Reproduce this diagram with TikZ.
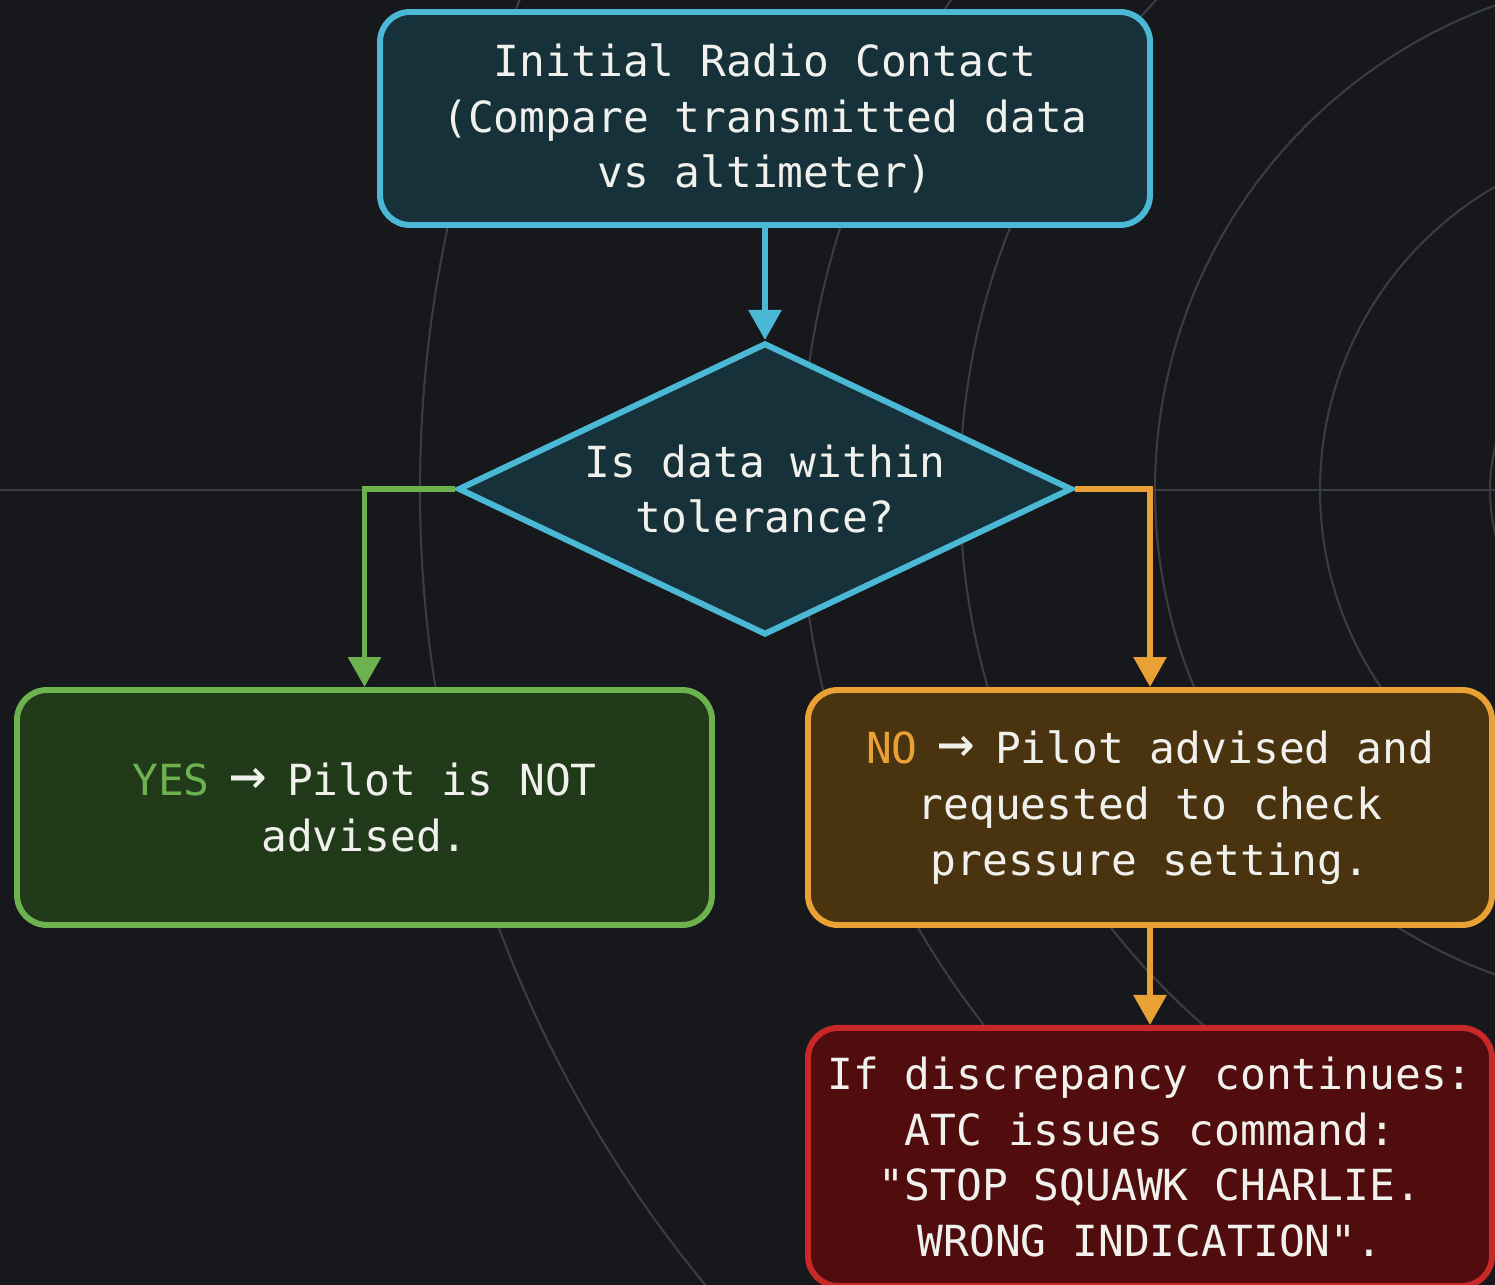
\documentclass[tikz,border=0pt]{standalone}
\usepackage{fontspec}
\setmonofont{DejaVu Sans Mono}
\usetikzlibrary{arrows.meta,shapes.geometric,positioning}
\definecolor{bgdark}{HTML}{16181B}
\definecolor{ringgray}{HTML}{393C40}
\definecolor{cyanline}{HTML}{4BB8D6}
\definecolor{cyanfill}{HTML}{16313A}
\definecolor{greenline}{HTML}{6DB24F}
\definecolor{greenfill}{HTML}{213A1A}
\definecolor{orangeline}{HTML}{E9A035}
\definecolor{orangefill}{HTML}{4A3410}
\definecolor{redline}{HTML}{C82828}
\definecolor{redfill}{HTML}{510D0D}
\definecolor{textwhite}{HTML}{F0F0EC}
\tikzstyle{box} = [rectangle, rounded corners=0.3cm, line width=1.7pt, align=center, text=textwhite, inner sep=0pt]
\tikzstyle{start} = [box, minimum width=7.7cm, minimum height=2.13cm, draw=cyanline, fill=cyanfill]
\tikzstyle{decision} = [diamond, aspect=2.1, inner sep=0pt, minimum width=6.14cm, minimum height=2.92cm, line width=1.7pt, draw=cyanline, fill=cyanfill, align=center, text=textwhite]
\tikzstyle{yesbox} = [box, minimum width=6.95cm, minimum height=2.35cm, draw=greenline, fill=greenfill]
\tikzstyle{nobox} = [box, minimum width=6.84cm, minimum height=2.35cm, draw=orangeline, fill=orangefill]
\tikzstyle{stopbox} = [box, minimum width=6.84cm, minimum height=2.58cm, draw=redline, fill=redfill]
\tikzstyle{flow} = [->, line width=1.7pt]
\newcommand{\goesto}{\makebox[0.6em]{\scalebox{1.45}{→}}}

\begin{document}
\begin{tikzpicture}[>={Triangle[width=0.32cm,length=0.3cm]}, font=\ttfamily\fontsize{12.2}{15.9}\selectfont]
    \fill[bgdark] (0,0) rectangle (14.95,-12.85);
    \useasboundingbox (0,0) rectangle (14.95,-12.85);

    % radar rings in the back
    \begin{scope}
        \clip (0,0) rectangle (14.95,-12.85);
        \foreach \r in {12.5,8.7,7.1,5.15,3.5,1.8}
            \draw[ringgray, line width=0.6pt] (16.7,-4.9) circle (\r);
        \draw[ringgray, line width=0.6pt] (0,-4.9) -- (14.95,-4.9);
    \end{scope}

    \node[start] (Contact) at (7.65,-1.185) {Initial Radio Contact\\(Compare transmitted data\\vs altimeter)};
    \node[decision] (Check) [below=1.12cm of Contact] {Is data within\\tolerance?};
    \node[yesbox] (Yes) at (3.645,-8.075) {\textcolor{greenline}{YES} \goesto{} Pilot is NOT\\advised.};
    \node[nobox] (No) at (11.50,-8.075) {\textcolor{orangeline}{NO} \goesto{} Pilot advised and\\requested to check\\pressure setting.};
    \node[stopbox] (Stop) [below=0.97cm of No] {If discrepancy continues:\\ATC issues command:\\"STOP SQUAWK CHARLIE.\\WRONG INDICATION".};

    \draw[flow, cyanline] (Contact) -- (Check);
    \draw[flow, greenline] (Check.west) -| (Yes.north);
    \draw[flow, orangeline] (Check.east) -| (No.north);
    \draw[flow, orangeline] (No) -- (Stop);
\end{tikzpicture}
\end{document}
